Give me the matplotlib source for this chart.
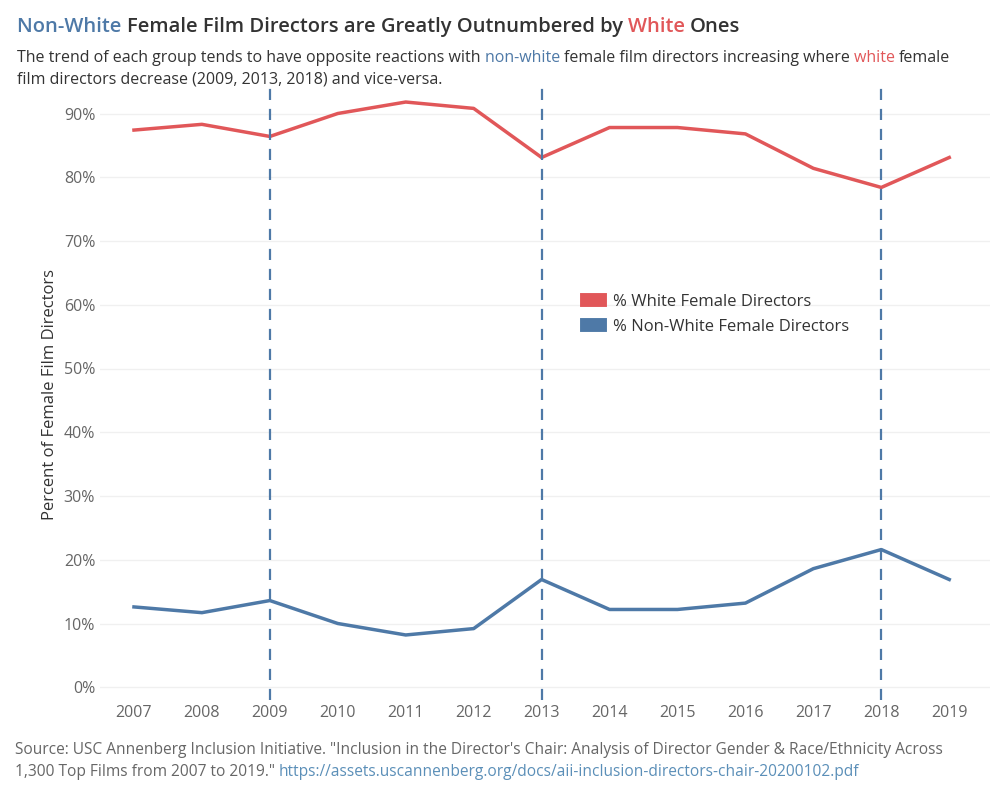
import matplotlib.pyplot as plt

years = [2007, 2008, 2009, 2010, 2011, 2012, 2013, 2014, 2015, 2016, 2017, 2018, 2019]
white = [87.4, 88.3, 86.4, 90.0, 91.8, 90.8, 83.1, 87.8, 87.8, 86.8, 81.4, 78.4, 83.1]
non_white = [12.6, 11.7, 13.6, 10.0, 8.2, 9.2, 16.9, 12.2, 12.2, 13.2, 18.6, 21.6, 16.9]
marked_years = [2009, 2013, 2018]

red = '#e15759'
blue = '#4e79a7'
grey = '#666666'
dark = '#333333'
plt.rcParams['font.family'] = ['Open Sans', 'DejaVu Sans']

fig = plt.figure(figsize=(10, 8), dpi=100)
ax = fig.add_axes([0.1, 0.125, 0.89, 0.765])

ax.plot(years, white, color=red, lw=2.5, label='% White Female Directors')
ax.plot(years, non_white, color=blue, lw=2.5, label='% Non-White Female Directors')
for y in marked_years:
    ax.axvline(y, color=blue, ls='--', lw=1.6, dashes=(5, 4))

ax.set_xlim(2006.5, 2019.6)
ax.set_ylim(-2, 94)
ax.set_xticks(years)
ax.set_yticks(range(0, 100, 10))
ax.set_yticklabels([f'{v}%' for v in range(0, 100, 10)])
ax.tick_params(colors=grey, labelsize=11.5, length=0)
ax.grid(axis='y', color='#f0f0f0', lw=1)
for s in ax.spines.values():
    s.set_visible(False)
ax.set_ylabel('Percent of Female Film Directors', fontsize=12, color=dark)

leg = ax.legend(loc='center left', bbox_to_anchor=(0.53, 0.63), frameon=False,
                handlelength=0.8, handleheight=0.8, fontsize=12, labelcolor=dark)
for h in leg.legend_handles:
    h.set_linewidth(10)


def chain(x, y, pieces, **kw):
    # place coloured text pieces one after another
    fig.canvas.draw()
    r = fig.canvas.get_renderer()
    t = None
    for s, c in pieces:
        if t is None:
            t = fig.text(x, y, s, color=c, **kw)
        else:
            t = fig.text(0, 0, s, color=c, transform=t.get_transform(), **kw)
            t = t
        yield t


def place(x, y, pieces, **kw):
    fig.canvas.draw()
    r = fig.canvas.get_renderer()
    cur = x
    for s, c in pieces:
        t = fig.text(cur, y, s, color=c, **kw)
        bb = t.get_window_extent(renderer=r)
        cur = bb.x1 / fig.bbox.width


title_kw = dict(fontsize=14.5, fontweight='semibold')
place(0.017, 0.96, [('Non-White ', blue), ('Female Film Directors are Greatly Outnumbered by ', dark),
                    ('White ', red), ('Ones', dark)], **title_kw)
place(0.017, 0.922, [('The trend of each group tends to have opposite reactions with ', dark),
                     ('non-white ', blue), ('female film directors increasing where ', dark),
                     ('white ', red), ('female', dark)], fontsize=11.5)
fig.text(0.017, 0.895, 'film directors decrease (2009, 2013, 2018) and vice-versa.', color=dark, fontsize=11.5)

fig.text(0.015, 0.058, 'Source: USC Annenberg Inclusion Initiative. "Inclusion in the Director\'s Chair: Analysis of Director Gender & Race/Ethnicity Across',
         color=grey, fontsize=11.2)
place(0.015, 0.03, [('1,300 Top Films from 2007 to 2019." ', grey),
                    ('https://assets.uscannenberg.org/docs/aii-inclusion-directors-chair-20200102.pdf', '#5b8fb8')],
      fontsize=11.2)

fig.savefig('out.png')
